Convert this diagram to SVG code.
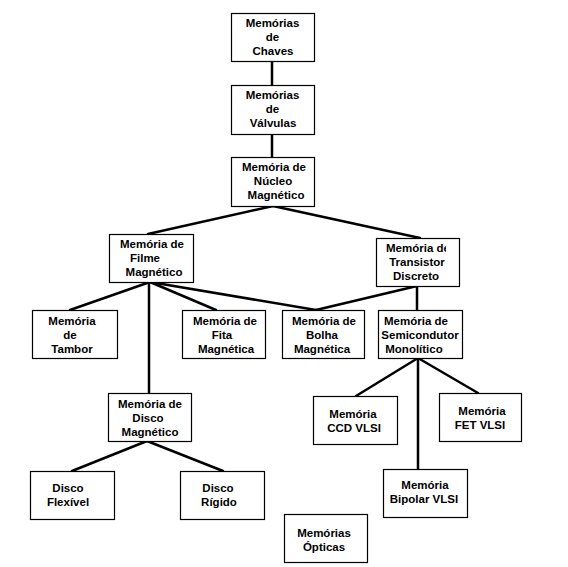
<svg xmlns="http://www.w3.org/2000/svg" width="568" height="567" viewBox="0 0 568 567">
<style>
.box{fill:#fff;stroke:#000;stroke-width:1.2}
.t{font-family:"Liberation Sans",Arial,sans-serif;font-weight:bold;font-size:11.5px;fill:#000;text-anchor:middle}
.c{stroke:#000;stroke-width:2.5;fill:none;stroke-linecap:round}
</style>
<defs>
<clipPath id="clipT"><rect x="376" y="238" width="70" height="48"/></clipPath>
</defs>
<rect width="568" height="567" fill="#fff"/>
<g id="connectors">
<line class="c" x1="272" y1="61" x2="272" y2="85"/>
<line class="c" x1="272" y1="134" x2="272" y2="157"/>
<line class="c" x1="273" y1="206" x2="148" y2="234"/>
<line class="c" x1="273" y1="206" x2="420" y2="238"/>
<line class="c" x1="150" y1="282" x2="70" y2="310"/>
<line class="c" x1="149" y1="282" x2="149" y2="393"/>
<line class="c" x1="150" y1="282" x2="216" y2="310"/>
<line class="c" x1="150" y1="282" x2="316" y2="310"/>
<line class="c" x1="417" y1="286" x2="316" y2="310"/>
<line class="c" x1="417" y1="286" x2="417" y2="310"/>
<line class="c" x1="418" y1="358" x2="356" y2="396"/>
<line class="c" x1="418" y1="358" x2="418" y2="469"/>
<line class="c" x1="418" y1="358" x2="478" y2="393"/>
<line class="c" x1="147" y1="441" x2="72" y2="471"/>
<line class="c" x1="147" y1="441" x2="223" y2="471"/>
</g>
<g id="chaves"><rect class="box" x="231.5" y="13.5" width="83" height="48"/>
<text class="t" x="272.5" y="27">Memórias</text><text class="t" x="272.5" y="41">de</text><text class="t" x="273" y="55">Chaves</text></g>
<g id="valvulas"><rect class="box" x="231.5" y="85.5" width="83" height="49"/>
<text class="t" x="272.5" y="99">Memórias</text><text class="t" x="272.5" y="113">de</text><text class="t" x="273" y="127">Válvulas</text></g>
<g id="nucleo"><rect class="box" x="231.5" y="157.5" width="83" height="49"/>
<text class="t" x="274" y="171">Memória de</text><text class="t" x="273" y="185">Núcleo</text><text class="t" x="276" y="199">Magnético</text></g>
<g id="filme"><rect class="box" x="109.5" y="234.5" width="84" height="48"/>
<text class="t" x="152" y="248">Memória de</text><text class="t" x="145" y="262">Filme</text><text class="t" x="154" y="276">Magnético</text></g>
<g id="transistor"><rect class="box" x="376.5" y="238.5" width="83" height="48"/>
<text class="t" x="386" y="252" style="text-anchor:start" clip-path="url(#clipT)">Memória de</text><text class="t" x="417" y="266">Transistor</text><text class="t" x="416" y="280">Discreto</text></g>
<g id="tambor"><rect class="box" x="32.5" y="310.5" width="85" height="48"/>
<text class="t" x="72" y="325">Memória</text><text class="t" x="70" y="339">de</text><text class="t" x="72" y="353">Tambor</text></g>
<g id="fita"><rect class="box" x="182.5" y="310.5" width="83" height="48"/>
<text class="t" x="225" y="325">Memória de</text><text class="t" x="222" y="339">Fita</text><text class="t" x="226" y="353">Magnética</text></g>
<g id="bolha"><rect class="box" x="282.5" y="310.5" width="82" height="48"/>
<text class="t" x="324" y="325">Memória de</text><text class="t" x="322" y="339">Bolha</text><text class="t" x="322" y="353">Magnética</text></g>
<g id="semicondutor"><rect class="box" x="378.5" y="310.5" width="84" height="48"/>
<text class="t" x="416" y="325">Memória de</text><text class="t" x="420" y="339">Semicondutor</text><text class="t" x="414" y="353">Monolítico</text></g>
<g id="disco"><rect class="box" x="108.5" y="393.5" width="83" height="48"/>
<text class="t" x="150" y="408">Memória de</text><text class="t" x="148" y="422">Disco</text><text class="t" x="150" y="436">Magnético</text></g>
<g id="ccd"><rect class="box" x="313.5" y="396.5" width="84" height="48"/>
<text class="t" x="353" y="418">Memória</text><text class="t" x="354" y="432">CCD VLSI</text></g>
<g id="fet"><rect class="box" x="439.5" y="393.5" width="82" height="48"/>
<text class="t" x="482" y="415">Memória</text><text class="t" x="480" y="429">FET VLSI</text></g>
<g id="bipolar"><rect class="box" x="383.5" y="469.5" width="84" height="48"/>
<text class="t" x="425" y="489">Memória</text><text class="t" x="424" y="503">Bipolar VLSI</text></g>
<g id="flexivel"><rect class="box" x="30.5" y="471.5" width="84" height="48"/>
<text class="t" x="68" y="492">Disco</text><text class="t" x="68" y="506">Flexível</text></g>
<g id="rigido"><rect class="box" x="180.5" y="471.5" width="84" height="48"/>
<text class="t" x="218" y="492">Disco</text><text class="t" x="219" y="506">Rígido</text></g>
<g id="opticas"><rect class="box" x="284.5" y="514.5" width="83" height="48"/>
<text class="t" x="324" y="537">Memórias</text><text class="t" x="324" y="551">Ópticas</text></g>
</svg>
